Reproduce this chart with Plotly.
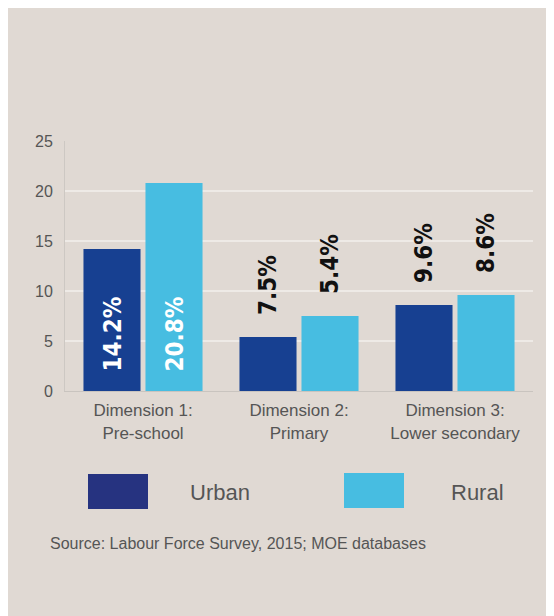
import plotly.graph_objects as go

# ---- data ----
categories = ["Dimension 1:<br>Pre-school", "Dimension 2:<br>Primary", "Dimension 3:<br>Lower secondary"]
series_names = ["Urban", "Rural"]
urban_values = [14.2, 5.4, 8.6]
rural_values = [20.8, 7.5, 9.6]
urban_labels = ["14.2%", "7.5%", "9.6%"]
rural_labels = ["20.8%", "5.4%", "8.6%"]
source_text = "Source: Labour Force Survey, 2015; MOE databases"
y_ticks = [0, 5, 10, 15, 20, 25]

BG = "#e0d9d3"
URBAN = "#174091"
RURAL = "#47bde1"
URBAN_LEG = "#263380"
TXT = "#555555"
FONT = "Liberation Sans"
LABEL_FONT = "DejaVu Sans Condensed, Roboto Condensed, Liberation Sans"

# figure is offset 8px by the page body margin
OFF = 8
W, H = 546, 608
L, R, T, B = 57, 21, 133, 225
PW, PH = W - L - R, H - T - B
def px(x):  # screen pixel -> paper
    return (x - OFF - L) / PW
def py(y):
    return (H - B - (y - OFF)) / PH

fig = go.Figure()
fig.add_trace(go.Bar(x=categories, y=urban_values, name=series_names[0],
                     marker=dict(color=URBAN, line=dict(width=0)), showlegend=False))
fig.add_trace(go.Bar(x=categories, y=rural_values, name=series_names[1],
                     marker=dict(color=RURAL, line=dict(width=0)), showlegend=False))

annotations = []
slot_shift = 31
for vals, labs, sh in [(urban_values, urban_labels, -slot_shift), (rural_values, rural_labels, slot_shift)]:
    for c, v, lab in zip(categories, vals, labs):
        inside = v >= 12
        annotations.append(dict(
            x=c, y=0 if inside else v, xref="x", yref="y",
            text=lab, showarrow=False, textangle=-90,
            xanchor="center", yanchor="bottom", xshift=sh,
            yshift=17 if inside else 20,
            font=dict(family=LABEL_FONT, size=24, color="white" if inside else "#111111", weight="bold"),
        ))

shapes = [
    dict(type="rect", xref="paper", yref="paper", x0=px(88), x1=px(148), y0=py(509), y1=py(474),
         fillcolor=URBAN_LEG, line=dict(width=0)),
    dict(type="rect", xref="paper", yref="paper", x0=px(344), x1=px(404), y0=py(508), y1=py(473),
         fillcolor=RURAL, line=dict(width=0)),
]
annotations += [
    dict(x=px(188), y=py(492), xref="paper", yref="paper", text=series_names[0], showarrow=False,
         xanchor="left", yanchor="middle", font=dict(family=FONT, size=22, color=TXT)),
    dict(x=px(449), y=py(492), xref="paper", yref="paper", text=series_names[1], showarrow=False,
         xanchor="left", yanchor="middle", font=dict(family=FONT, size=22, color=TXT)),
    dict(x=px(48), y=py(543), xref="paper", yref="paper", text=source_text, showarrow=False,
         xanchor="left", yanchor="middle", font=dict(family=FONT, size=16, color=TXT)),
]

fig.update_layout(
    width=W, height=H,
    margin=dict(l=L, r=R, t=T, b=B, pad=0),
    paper_bgcolor=BG, plot_bgcolor=BG,
    barmode="group", bargap=0.205, bargroupgap=0.08,
    font=dict(family=FONT, color=TXT),
    shapes=shapes, annotations=annotations,
    xaxis=dict(showgrid=False, showline=True, linecolor="#c9c4bf", linewidth=1,
               tickfont=dict(size=17, color=TXT), ticks="", ticklabelstandoff=4),
    yaxis=dict(range=[0, 25], tickvals=y_ticks, showgrid=True, gridcolor="#eeeae6", gridwidth=1.5,
               showline=True, linecolor="#cdc8c3", linewidth=1, zeroline=False,
               tickfont=dict(size=16, color=TXT), ticks="", ticklabelstandoff=8),
)

fig.write_html("out.html")
